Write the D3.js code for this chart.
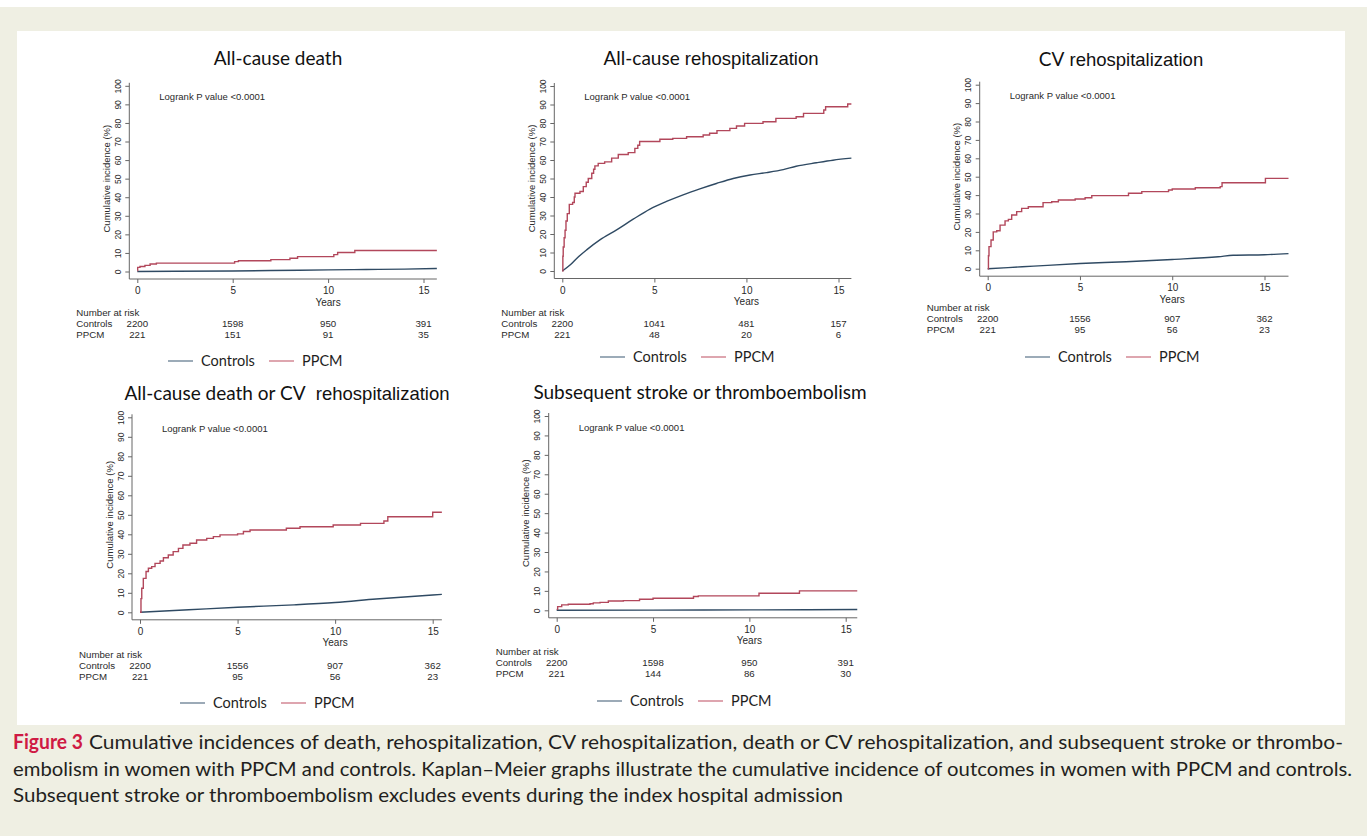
<!DOCTYPE html>
<html>
<head>
<meta charset="utf-8">
<script src="https://cdn.jsdelivr.net/npm/d3@7"></script>
<style>
  body { margin: 0; background: #fff; }
</style>
</head>
<body>
<div id="chart"></div>
<script>
// ---- data ----
const xTicks = [0, 5, 10, 15];
const yTicks = [0, 10, 20, 30, 40, 50, 60, 70, 80, 90, 100];
const seriesNames = ['Controls', 'PPCM'];
const logrankText = 'Logrank P value <0.0001';
const yTitle = 'Cumulative incidence (%)';
const xTitle = 'Years';
const riskTitle = 'Number at risk';

// title pieces: first part in the Calibri-like face, second in the Arial-like face
const panelTitles = [
  ['All-cause death'],
  ['All-cause', ' rehospitalization'],
  ['CV', ' rehospitalization'],
  ['All-cause death or CV', '  rehospitalization'],
  ['Subsequent stroke or thromboembolism'],
];

// [years, cumulative incidence %]
const deathPPCM = [[0, 0.5], [0.02, 2.2], [0.14, 2.7], [0.4, 3.3], [0.67, 4.0], [1.0, 4.5], [5.1, 5.3], [5.3, 5.8],
  [7.0, 6.4], [8.0, 7.1], [8.4, 8.0], [10.3, 9.1], [10.5, 10.2], [11.4, 11.3], [15.7, 11.3]];
const deathControls = [[0, 0], [2, 0.1], [5, 0.3], [7, 0.5], [10, 0.9], [12, 1.1], [14, 1.3], [15.7, 1.6]];

const rehospPPCM = [[0, 0], [0.03, 8], [0.05, 13], [0.1, 18], [0.15, 22], [0.2, 27], [0.27, 31], [0.38, 36], [0.56, 37],
  [0.65, 40], [0.69, 42], [0.96, 43], [1.14, 45.6], [1.3, 48], [1.41, 50], [1.6, 52.8], [1.7, 55], [1.77, 56.8],
  [1.95, 58.2], [2.3, 59], [2.68, 61], [3.04, 63], [3.58, 64], [3.94, 66.3], [4.1, 68], [4.2, 70], [5.3, 71.2],
  [6.0, 71.7], [6.75, 72.6], [7.65, 73.5], [8.0, 74.5], [8.4, 75.9], [9.1, 77.1], [9.46, 78.4], [9.9, 79.8],
  [10.9, 80.7], [11.6, 82.5], [12.7, 83.4], [13.1, 85.2], [14.2, 87], [14.3, 88.8], [15.5, 90.3], [15.7, 90.3]];
const rehospControls = [[0, 0], [0.42, 3.2], [0.78, 6.8], [1.32, 11.4], [2.04, 16.8], [2.95, 22.2], [3.85, 28],
  [4.76, 33.5], [5.66, 37.6], [6.56, 41.2], [7.47, 44.4], [8.37, 47.3], [9.28, 50.0], [10.2, 51.9], [11.1, 53.2],
  [12.0, 54.8], [12.7, 56.6], [13.8, 58.5], [14.7, 59.9], [15.7, 61]];

const cvPPCM = [[0, 0], [0.04, 7], [0.07, 12], [0.18, 15.6], [0.3, 20], [0.49, 20.6], [0.67, 23.7], [0.94, 26],
  [1.12, 26.8], [1.3, 29.2], [1.57, 31], [1.84, 32.8], [2.2, 33.7], [3.0, 35.9], [3.47, 36.4], [3.83, 37.3],
  [4.74, 37.9], [5.28, 38.6], [5.64, 39.7], [7.63, 41], [8.35, 41.9], [9.8, 42.8], [10.0, 43.3], [11.25, 44],
  [12.6, 44.6], [12.7, 46.7], [15.05, 49.1], [16.3, 49.1]];
const cvControls = [[0, 0], [1.1, 0.6], [2.5, 1.4], [5, 2.8], [7.5, 3.8], [10, 5], [12.5, 6.5], [13.3, 7.3],
  [15, 7.6], [16.3, 8.2]];

const deathCvPPCM = [[0, 0], [0.05, 7], [0.09, 12.3], [0.17, 17.4], [0.31, 20.9], [0.43, 22.6], [0.6, 23.4],
  [0.77, 25.1], [1.03, 26.3], [1.2, 28], [1.45, 29.4], [1.7, 31.1], [1.97, 32.8], [2.2, 34.5], [2.56, 35.4],
  [2.9, 37.1], [3.42, 37.9], [3.76, 38.8], [4.1, 39.7], [5.0, 40.2], [5.3, 41.4], [5.64, 42.2], [7.5, 43.1],
  [8.2, 43.9], [9.9, 44.8], [11.3, 45.6], [12.5, 46.8], [12.7, 49], [15.0, 51.3], [15.47, 51.3]];
const deathCvControls = [[0, 0], [2.5, 1.3], [5, 2.6], [7.9, 3.8], [10, 5], [12.1, 6.8], [15, 8.9], [15.47, 9.2]];

const strokePPCM = [[0, 0.5], [0.05, 1.9], [0.26, 2.8], [0.6, 3.1], [1.73, 3.4], [1.9, 3.8], [2.25, 4.1],
  [2.68, 4.8], [3.46, 5], [4.3, 5.7], [5.0, 6.2], [7.1, 7.1], [7.35, 7.4], [10.5, 8.8], [12.6, 10], [15.6, 10]];
const strokeControls = [[0, 0], [5, 0.1], [10, 0.2], [15.6, 0.4]];

const riskControls = [[2200, 1598, 950, 391], [2200, 1041, 481, 157], [2200, 1556, 907, 362],
  [2200, 1556, 907, 362], [2200, 1598, 950, 391]];
const riskPPCM = [[221, 151, 91, 35], [221, 48, 20, 6], [221, 95, 56, 23], [221, 95, 56, 23], [221, 144, 86, 30]];

const captionLead = 'Figure 3';
const captionLines = [
  'Cumulative incidences of death, rehospitalization, CV rehospitalization, death or CV rehospitalization, and subsequent stroke or thrombo-',
  'embolism in women with PPCM and controls. Kaplan\u2013Meier graphs illustrate the cumulative incidence of outcomes in women with PPCM and controls.',
  'Subsequent stroke or thromboembolism excludes events during the index hospital admission',
];

const ppcmCurves = [deathPPCM, rehospPPCM, cvPPCM, deathCvPPCM, strokePPCM];
const controlCurves = [deathControls, rehospControls, cvControls, deathCvControls, strokeControls];

// ---- layout ----
const W = 1367, H = 836;
const layout = [
  { x0: 137.3, x15: 423.5, xmax: 15.7, y0: 271.5, y100: 85.8, titleX: 278, titleY: 64.5, narY: 316, legendX: 168, legendY: 361 },
  { x0: 562.3, x15: 838.5, xmax: 15.7, y0: 271, y100: 86, titleX: 711, titleY: 64.5, narY: 316, legendX: 600, legendY: 357 },
  { x0: 987.7, x15: 1264.5, xmax: 16.3, y0: 268.7, y100: 84.7, titleX: 1121, titleY: 65.5, narY: 311, legendX: 1025, legendY: 357 },
  { x0: 140, x15: 432.7, xmax: 15.47, y0: 612.3, y100: 417.3, titleX: 287, titleY: 399.5, narY: 658, legendX: 180, legendY: 703 },
  { x0: 556.7, x15: 845.7, xmax: 15.6, y0: 610.3, y100: 416, titleX: 700, titleY: 398.5, narY: 655, legendX: 597, legendY: 701 },
];

const calibri = 'Lato, "Open Sans", sans-serif';
const arial = '"Liberation Sans", Arial, sans-serif';
const colPPCM = '#b2475b';
const colCtrl = '#2f4a63';

const svg = d3.select('#chart').append('svg')
  .attr('width', W)
  .attr('height', H)
  .attr('viewBox', [0, 0, W, H]);

svg.append('rect').attr('x', 0).attr('y', 7).attr('width', W).attr('height', H - 7).attr('fill', '#efefe3');
svg.append('rect').attr('x', 17).attr('y', 31).attr('width', 1328).attr('height', 694).attr('fill', '#fff');

layout.forEach((L, i) => {
  const x = d3.scaleLinear().domain([0, 15]).range([L.x0, L.x15]);
  const y = d3.scaleLinear().domain([0, 100]).range([L.y0, L.y100]);
  const axX = L.x0 - 8;
  const axY = L.y0 + 7.5;
  const g = svg.append('g').attr('font-family', arial).attr('fill', '#2a2a2a');

  // title
  const t = g.append('text')
    .attr('x', L.titleX)
    .attr('y', L.titleY)
    .attr('text-anchor', 'middle')
    .attr('font-size', 19)
    .attr('fill', '#111')
    .attr('xml:space', 'preserve');
  panelTitles[i].forEach((s, j) => {
    t.append('tspan')
      .attr('font-family', j === 0 ? calibri : arial)
      .attr('font-size', j === 0 ? 19 : 18.5)
      .text(s);
  });

  // axes
  g.append('line')
    .attr('x1', axX).attr('x2', axX)
    .attr('y1', y(100) - 3).attr('y2', axY)
    .attr('stroke', '#666');
  g.append('line')
    .attr('x1', axX).attr('x2', x(L.xmax))
    .attr('y1', axY).attr('y2', axY)
    .attr('stroke', '#666');

  const xa = g.append('g')
    .attr('transform', `translate(0,${axY})`)
    .call(d3.axisBottom(x).tickValues(xTicks).tickSize(4).tickPadding(4));
  xa.select('.domain').remove();
  xa.selectAll('line').attr('stroke', '#666');
  xa.selectAll('text').attr('font-family', arial).attr('font-size', 10).attr('fill', '#2a2a2a');

  const ya = g.append('g')
    .attr('transform', `translate(${axX},0)`)
    .call(d3.axisLeft(y).tickValues(yTicks).tickSize(4));
  ya.select('.domain').remove();
  ya.selectAll('line').attr('stroke', '#666');
  ya.selectAll('text')
    .attr('x', null)
    .attr('dy', null)
    .attr('transform', 'translate(-8.5,0) rotate(-90)')
    .attr('text-anchor', 'middle')
    .attr('font-family', arial)
    .attr('font-size', 8.5)
    .attr('fill', '#2a2a2a');

  g.append('text')
    .attr('transform', `translate(${L.x0 - 27.5},${(L.y0 + L.y100) / 2}) rotate(-90)`)
    .attr('text-anchor', 'middle')
    .attr('font-size', 9.5)
    .text(yTitle);

  g.append('text')
    .attr('x', x(10))
    .attr('y', axY + 26.5)
    .attr('text-anchor', 'middle')
    .attr('font-size', 10)
    .text(xTitle);

  g.append('text')
    .attr('x', L.x0 + 22)
    .attr('y', y(94) + 3)
    .attr('font-size', 9.5)
    .text(logrankText);

  // curves
  const line = d3.line()
    .x((d) => x(d[0]))
    .y((d) => y(d[1]));
  g.append('path')
    .datum(controlCurves[i])
    .attr('fill', 'none')
    .attr('stroke', colCtrl)
    .attr('stroke-width', 1.4)
    .attr('d', line.curve(d3.curveMonotoneX));
  g.append('path')
    .datum(ppcmCurves[i])
    .attr('fill', 'none')
    .attr('stroke', colPPCM)
    .attr('stroke-width', 1.4)
    .attr('d', line.curve(d3.curveStepAfter));

  // number at risk
  const left = L.x0 - 61;
  g.append('text').attr('x', left).attr('y', L.narY).attr('font-size', 9.7).text(riskTitle);
  [riskControls[i], riskPPCM[i]].forEach((row, r) => {
    const ry = L.narY + 11 * (r + 1);
    g.append('text').attr('x', left).attr('y', ry).attr('font-size', 9.7).text(seriesNames[r]);
    g.selectAll(null)
      .data(row)
      .join('text')
      .attr('x', (d, k) => x(xTicks[k]))
      .attr('y', ry)
      .attr('text-anchor', 'middle')
      .attr('font-size', 9.7)
      .text((d) => d);
  });

  // legend
  const lg = g.append('g').attr('transform', `translate(${L.legendX},${L.legendY})`);
  [colCtrl, colPPCM].forEach((c, k) => {
    const off = k * 101;
    lg.append('line')
      .attr('x1', off).attr('x2', off + 25)
      .attr('y1', 0).attr('y2', 0)
      .attr('stroke', k === 0 ? '#5a7288' : '#c86a7a')
      .attr('stroke-width', 1.2);
    lg.append('text')
      .attr('x', off + 33)
      .attr('y', 5)
      .attr('font-family', calibri)
      .attr('font-size', 14.5)
      .attr('fill', '#1e1e1e')
      .text(seriesNames[k]);
  });
});

// caption
const cap = svg.append('g').attr('font-family', calibri).attr('font-size', 19.5).attr('fill', '#231f20');
cap.append('text')
  .attr('x', 13).attr('y', 749)
  .attr('font-weight', 'bold')
  .attr('font-size', 20)
  .attr('fill', '#cf1a44')
  .attr('textLength', 70)
  .attr('lengthAdjust', 'spacingAndGlyphs')
  .text(captionLead);
const capX = [89, 13, 13];
const capEnd = [1343, 1352, 843];
captionLines.forEach((s, i) => {
  cap.append('text')
    .attr('x', capX[i])
    .attr('y', 749 + i * 26.5)
    .attr('textLength', capEnd[i] - capX[i])
    .attr('lengthAdjust', 'spacingAndGlyphs')
    .text(s);
});
</script>
</body>
</html>
